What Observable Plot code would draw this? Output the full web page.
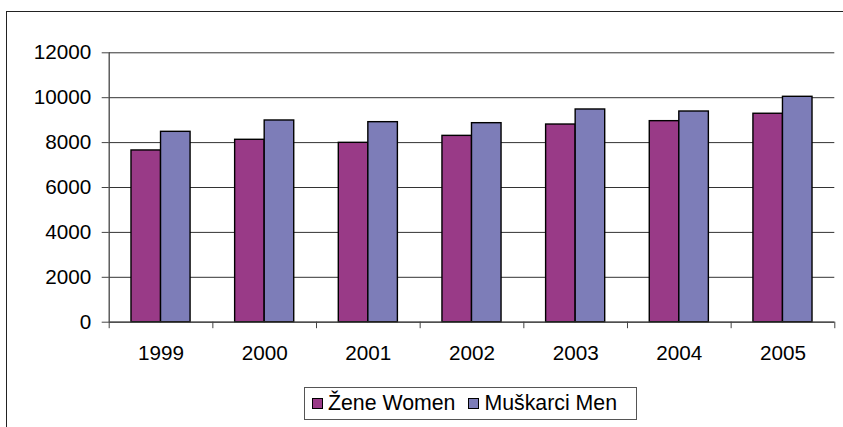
<!DOCTYPE html>
<html>
<head>
<meta charset="utf-8">
<script src="https://cdn.jsdelivr.net/npm/d3@7"></script>
<script src="https://cdn.jsdelivr.net/npm/@observablehq/plot@0.6"></script>
<style>
  html, body { margin: 0; padding: 0; background: #fff; }
  #wrap { position: relative; width: 843px; height: 427px; overflow: hidden; font-family: "Liberation Sans", Arial, sans-serif; }
  #frame { position: absolute; left: 6px; top: 11px; width: 900px; height: 500px; border-top: 1.5px solid #222; border-left: 1.5px solid #222; box-sizing: border-box; }
  #chart { position: absolute; left: 0; top: 0; }
  #legend { position: absolute; left: 304px; top: 387px; width: 333px; height: 33px; box-sizing: border-box; border: 1px solid #555; background: #fff;
            display: flex; align-items: center; font-size: 21.3px; color: #000; white-space: nowrap; }
  .item { display: flex; align-items: center; }
  .sw { width: 11px; height: 11px; border: 1.5px solid #000; box-sizing: border-box; margin-right: 5px; }
</style>
</head>
<body>
<div id="wrap">
  <div id="frame"></div>
  <div id="chart"></div>
  <div id="legend"></div>
</div>
<script>
const years = [1999, 2000, 2001, 2002, 2003, 2004, 2005];
const women = [7650, 8125, 7990, 8300, 8805, 8955, 9285];
const men = [8480, 8985, 8910, 8865, 9475, 9385, 10040];
const yTicks = [0, 2000, 4000, 6000, 8000, 10000, 12000];
const seriesNames = ["Žene Women", "Muškarci Men"];
const seriesColors = ["#993a87", "#7d7db8"];

const rows = years.map((year, i) => ({year, women: women[i], men: men[i]}));
const boundaries = [...years.map(y => y - 0.5), years[years.length - 1] + 0.5];
const half = 0.285; // bar width in category units

const chart = Plot.plot({
  width: 843,
  height: 370,
  marginLeft: 108.7,
  marginRight: 8.7,
  marginTop: 52.3,
  marginBottom: 48.3,
  style: {fontFamily: "'Liberation Sans', Arial, sans-serif", fontSize: "20.7px", background: "transparent", color: "#000"},
  x: {domain: [boundaries[0], boundaries[boundaries.length - 1]]},
  y: {domain: [0, 12000]},
  marks: [
    Plot.gridY(yTicks, {stroke: "#333", strokeOpacity: 1, strokeWidth: 1}),
    Plot.rectY(rows, {x1: d => d.year - half, x2: d => d.year, y: "women", fill: seriesColors[0], stroke: "#000", strokeWidth: 1.4}),
    Plot.rectY(rows, {x1: d => d.year, x2: d => d.year + half, y: "men", fill: seriesColors[1], stroke: "#000", strokeWidth: 1.4}),
    Plot.ruleY([0], {stroke: "#444", strokeWidth: 1.3}),
    Plot.ruleX([boundaries[0]], {y1: 0, y2: 12000, stroke: "#444", strokeWidth: 1.3}),
    Plot.axisY({ticks: yTicks, tickSize: 7, tickPadding: 11, tickFormat: d => String(d), stroke: "#444"}),
    Plot.axisX({ticks: boundaries, tickSize: 6.5, tickFormat: () => "", stroke: "#444"}),
    Plot.axisX({ticks: years, tickSize: 0, tickPadding: 23, tickFormat: d => String(d)})
  ]
});
document.getElementById("chart").appendChild(chart);

const legend = document.getElementById("legend");
seriesNames.forEach((name, i) => {
  const item = document.createElement("div");
  item.className = "item";
  item.style.marginLeft = i === 0 ? "7px" : "13px";
  const sw = document.createElement("div");
  sw.className = "sw";
  sw.style.background = seriesColors[i];
  const label = document.createElement("span");
  label.textContent = name;
  item.appendChild(sw);
  item.appendChild(label);
  legend.appendChild(item);
});
</script>
</body>
</html>
